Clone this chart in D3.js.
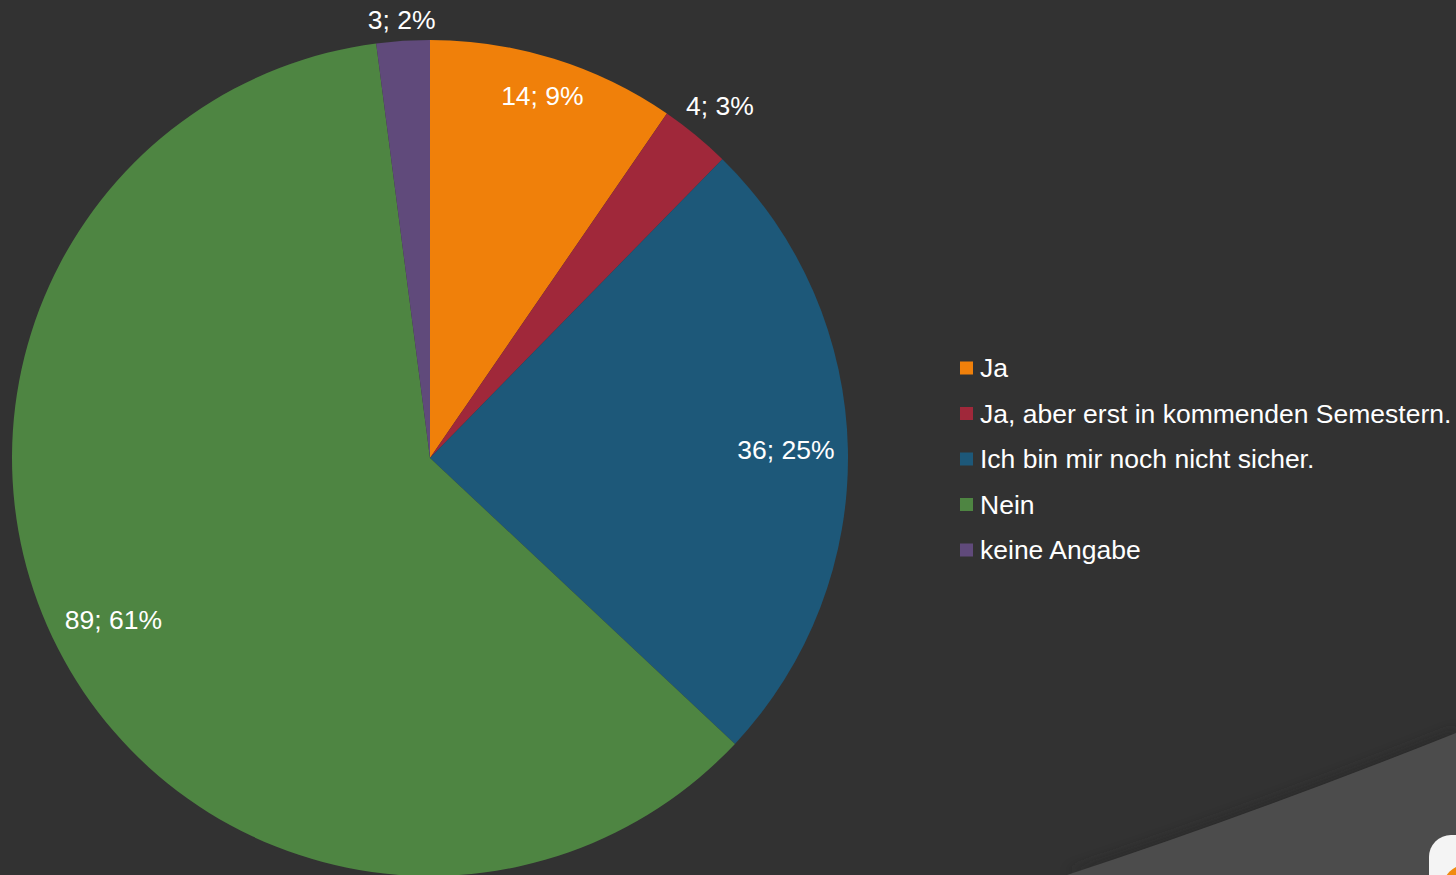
<!DOCTYPE html>
<html>
<head>
<meta charset="utf-8">
<script src="https://cdn.jsdelivr.net/npm/d3@7"></script>
<style>
  html, body { margin: 0; padding: 0; background: #323232; overflow: hidden; }
  svg { display: block; font-family: "Liberation Sans", Arial, sans-serif; }
</style>
</head>
<body>
<svg id="chart" width="1456" height="875"></svg>
<script>
// data
var categories = ["Ja", "Ja, aber erst in kommenden Semestern.", "Ich bin mir noch nicht sicher.", "Nein", "keine Angabe"];
var values = [14, 4, 36, 89, 3];
var percentLabels = ["9%", "3%", "25%", "61%", "2%"];
var colors = ["#f0800a", "#a0283a", "#1d5879", "#4e8542", "#604a7b"];

var svg = d3.select("#chart");

// background swoosh bottom right
var defs = svg.append("defs");
var f = defs.append("filter").attr("id", "shadow").attr("x", "-10%").attr("y", "-30%").attr("width", "120%").attr("height", "160%");
f.append("feGaussianBlur").attr("stdDeviation", 6);

var swoosh = "M1067,875 Q1250,815 1456,733 L1456,875 Z";
svg.append("path").attr("d", swoosh).attr("fill", "#262626").attr("opacity", 0.6)
  .attr("filter", "url(#shadow)").attr("transform", "translate(0,-3)");
svg.append("path").attr("d", swoosh).attr("fill", "#4c4c4c");

// logo corner
svg.append("rect").attr("x", 1429).attr("y", 835).attr("width", 70).attr("height", 70)
  .attr("rx", 22).attr("fill", "#f4f4f4");
svg.append("circle").attr("cx", 1468).attr("cy", 890).attr("r", 26).attr("fill", "#f08a10");

// pie
var cx = 430, cy = 458, r = 418;
var total = d3.sum(values);

var pie = d3.pie().sort(null).value(function(d) { return d; });
var arc = d3.arc().innerRadius(0).outerRadius(r);
var arcs = pie(values);

var g = svg.append("g").attr("transform", "translate(" + cx + "," + cy + ")");

g.selectAll("path.slice")
  .data(arcs)
  .enter()
  .append("path")
  .attr("class", "slice")
  .attr("d", arc)
  .attr("fill", function(d, i) { return colors[i]; });

// data labels: inside -> far corner of box 13px inside the rim,
// small slices -> near corner of box 7px outside the rim
var fontSize = 26.5;
var boxH = 26;
g.selectAll("text.lbl")
  .data(arcs)
  .enter()
  .append("text")
  .attr("class", "lbl")
  .attr("fill", "#ffffff")
  .attr("font-size", fontSize)
  .attr("text-anchor", "middle")
  .attr("dominant-baseline", "central")
  .text(function(d, i) { return values[i] + "; " + percentLabels[i]; })
  .each(function(d) {
    var a = (d.startAngle + d.endAngle) / 2;
    var ux = Math.sin(a), uy = -Math.cos(a);
    var w = this.getComputedTextLength();
    var ox = (ux >= 0 ? 1 : -1) * w / 2, oy = (uy >= 0 ? 1 : -1) * boxH / 2;
    var uo = ux * ox + uy * oy, oo = ox * ox + oy * oy;
    var t;
    if (d.value / total < 0.05) {
      var R = r + 7;
      t = uo + Math.sqrt(uo * uo - oo + R * R);
    } else {
      var Ri = r - 13;
      t = -uo + Math.sqrt(uo * uo - oo + Ri * Ri);
    }
    d3.select(this).attr("x", t * ux).attr("y", t * uy);
  });

// legend
var legend = svg.append("g").attr("transform", "translate(960,368)");
var rowH = 45.5;
var items = legend.selectAll("g")
  .data(categories)
  .enter()
  .append("g")
  .attr("transform", function(d, i) { return "translate(0," + (i * rowH) + ")"; });

items.append("rect")
  .attr("x", 0).attr("y", -6.5)
  .attr("width", 13).attr("height", 13)
  .attr("fill", function(d, i) { return colors[i]; });

items.append("text")
  .attr("x", 20).attr("y", 0)
  .attr("dominant-baseline", "central")
  .attr("fill", "#ffffff")
  .attr("font-size", fontSize)
  .text(function(d) { return d; });
</script>
</body>
</html>
